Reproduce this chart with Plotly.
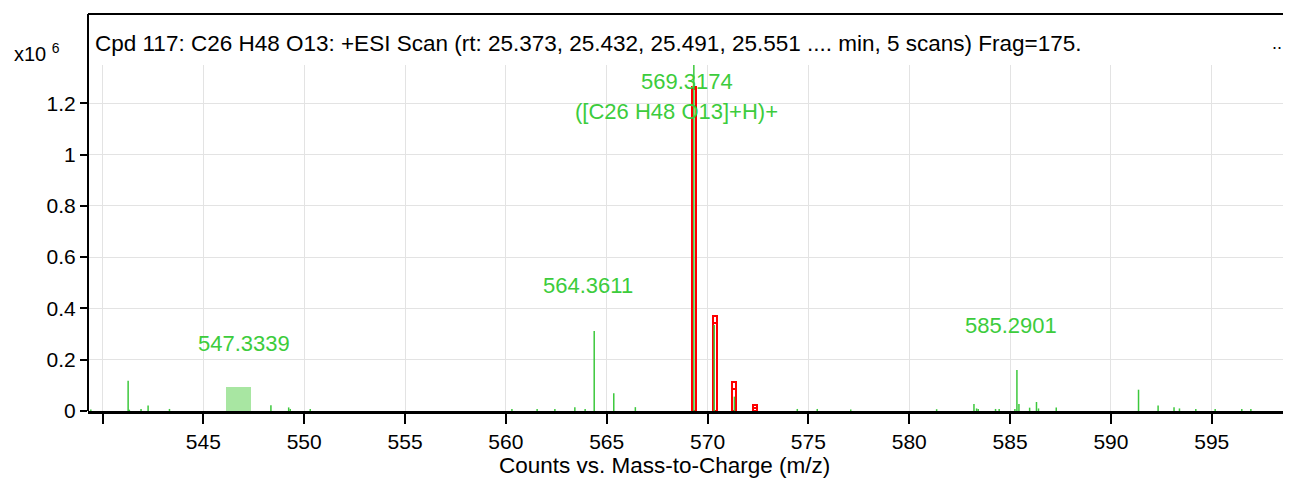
import plotly.graph_objects as go

# Measured spectrum (m/z, abundance in x10^6 counts)
peak_mz = [539.42, 541.27, 541.33, 541.91, 542.26, 543.32, 548.35, 549.23, 549.31,
           550.30, 560.30, 561.55, 562.43, 563.42, 563.93, 564.38, 565.35, 566.42,
           569.32, 570.33, 571.33, 574.45, 575.44, 577.10, 581.36, 583.21, 583.34,
           583.42, 584.28, 584.46, 585.24, 585.34, 585.44, 585.97, 586.31, 586.41,
           587.29, 591.37, 592.34, 593.13, 593.40, 594.21, 595.17, 596.49, 596.94]
peak_abund = [0.006, 0.118, 0.005, 0.008, 0.021, 0.008, 0.022, 0.014, 0.008,
              0.008, 0.008, 0.008, 0.008, 0.015, 0.008, 0.312, 0.069, 0.015,
              1.40, 0.335, 0.056, 0.008, 0.008, 0.006, 0.007, 0.027, 0.010,
              0.008, 0.008, 0.008, 0.008, 0.160, 0.027, 0.013, 0.035, 0.010,
              0.014, 0.083, 0.021, 0.015, 0.010, 0.008, 0.008, 0.008, 0.008]

# Predicted isotope pattern boxes
iso_mz = [569.34, 570.35, 571.31, 572.34]
iso_upper = [1.265, 0.370, 0.112, 0.023]
iso_lower = [1.255, 0.342, 0.084, 0.013]

# Highlighted region
region_mz = [546.76]
region_width = [1.24]
region_height = [0.095]

x_ticks = [540, 545, 550, 555, 560, 565, 570, 575, 580, 585, 590, 595]
x_ticktext = ["", "545", "550", "555", "560", "565", "570", "575", "580", "585", "590", "595"]
y_ticks = [0, 0.2, 0.4, 0.6, 0.8, 1.0, 1.2]
y_ticktext = ["0", "0.2", "0.4", "0.6", "0.8", "1", "1.2"]

title_text = ("Cpd 117: C26 H48 O13: +ESI Scan (rt: 25.373, 25.432, 25.491, 25.551 "
              ".... min, 5 scans) Frag=175.")
x_title = "Counts vs. Mass-to-Charge (m/z)"

FONT = "Liberation Sans, Arial, sans-serif"
GREEN = "#3cc83c"
LABEL_GREEN = "#3ccc3c"

fig = go.Figure()

fig.add_trace(go.Bar(
    x=region_mz, y=region_height, width=region_width,
    marker=dict(color="#a8e6a2", line=dict(width=0)),
    hoverinfo="skip"
))

xs, ys = [], []
for m, a in zip(peak_mz, peak_abund):
    xs += [m, m, None]
    ys += [0, a, None]
fig.add_trace(go.Scatter(x=xs, y=ys, mode="lines",
                         line=dict(color=GREEN, width=1.5), hoverinfo="skip"))

for heights in (iso_upper, iso_lower):
    fig.add_trace(go.Bar(
        x=iso_mz, y=heights, width=0.2,
        marker=dict(color="rgba(0,0,0,0)", line=dict(color="#ff0000", width=2)),
        hoverinfo="skip"
    ))

# peak labels
labels = [
    ("569.3174", 568.98, 1.283),
    ("([C26 H48 O13]+H)+", 568.44, 1.166),
    ("564.3611", 564.07, 0.488),
    ("547.3339", 547.02, 0.265),
    ("585.2901", 585.04, 0.335),
]
for txt, lx, ly in labels:
    fig.add_annotation(x=lx, y=ly, text=txt, showarrow=False,
                       font=dict(family=FONT, size=22, color=LABEL_GREEN))

# frame around plot + header band
top_y = (411 - 14) / 346
fig.add_shape(type="line", xref="paper", yref="paper", x0=0, x1=0, y0=0, y1=top_y,
              line=dict(color="black", width=2))
fig.add_shape(type="line", xref="paper", yref="paper", x0=0, x1=1, y0=top_y, y1=top_y,
              line=dict(color="black", width=2))

fig.add_annotation(xref="paper", yref="paper", x=0.004, y=(411 - 43) / 346,
                   xanchor="left", yanchor="middle", text=title_text, showarrow=False,
                   font=dict(family=FONT, size=22.5, color="black"))
fig.add_annotation(xref="paper", yref="paper", x=(1279 - 88) / 1203, y=(411 - 43) / 346,
                   xanchor="center", yanchor="middle", text="...", showarrow=False,
                   font=dict(family=FONT, size=18, color="black"))
fig.add_annotation(xref="paper", yref="paper", x=-0.0635, y=(411 - 52) / 346,
                   xanchor="left", yanchor="middle", text="x10 <sup>6</sup>", showarrow=False,
                   font=dict(family=FONT, size=20, color="black"))
fig.add_annotation(xref="paper", yref="paper", x=(664 - 88) / 1203, y=(411 - 465) / 346,
                   xanchor="center", yanchor="middle", text=x_title, showarrow=False,
                   font=dict(family=FONT, size=22.5, color="black"))

# page body has an 8px margin, so the figure is shrunk by that offset
fig.update_layout(
    width=1283, height=470,
    margin=dict(l=80, r=0, t=57, b=67),
    plot_bgcolor="white", paper_bgcolor="white",
    barmode="overlay", bargap=0, showlegend=False,
    font=dict(family=FONT, size=20, color="black"),
)
fig.update_xaxes(
    range=[539.28, 598.93], tickvals=x_ticks, ticktext=x_ticktext,
    showgrid=True, gridcolor="#e3e3e3", gridwidth=1,
    showline=True, linecolor="black", linewidth=2.5,
    ticks="outside", ticklen=10, tickwidth=1.5, tickcolor="black",
    tickfont=dict(family=FONT, size=21),
    zeroline=False,
)
fig.update_yaxes(
    range=[0, 1.349], tickvals=y_ticks, ticktext=y_ticktext,
    showgrid=True, gridcolor="#e3e3e3", gridwidth=1,
    showline=False, zeroline=False,
    ticks="outside", ticklen=7, tickwidth=1.5, tickcolor="black",
    tickfont=dict(family=FONT, size=21),
)

fig.write_html("out.html")
